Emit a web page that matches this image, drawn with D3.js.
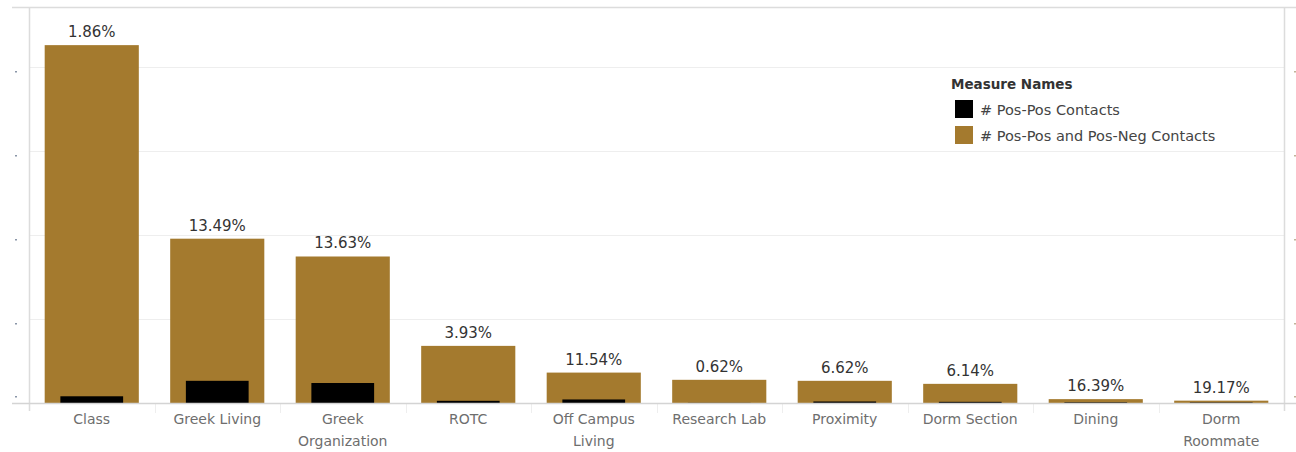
<!DOCTYPE html>
<html>
<head>
<meta charset="utf-8">
<script src="https://cdn.jsdelivr.net/npm/d3@7"></script>
<style>
  html, body { margin: 0; padding: 0; background: #fff; }
  svg { display: block; font-family: "DejaVu Sans", "Noto Sans", sans-serif; }
</style>
</head>
<body>
<svg id="chart" width="1296" height="452"></svg>
<script>
// ---- data ----
const categories = ["Class", "Greek Living", "Greek Organization", "ROTC", "Off Campus Living",
  "Research Lab", "Proximity", "Dorm Section", "Dining", "Dorm Roommate"];
const posPosAndNeg = [2130, 978, 872, 340, 181, 138, 132, 114, 23, 14];   // # Pos-Pos and Pos-Neg Contacts
const posPos       = [40, 132, 119, 13, 21, 1, 9, 7, 4, 3];              // # Pos-Pos Contacts
const pctLabels    = ["1.86%", "13.49%", "13.63%", "3.93%", "11.54%", "0.62%", "6.62%", "6.14%", "16.39%", "19.17%"];
const yTicks       = [0, 500, 1000, 1500, 2000];
const legendTitle  = "Measure Names";
const seriesNames  = ["# Pos-Pos Contacts", "# Pos-Pos and Pos-Neg Contacts"];
const seriesColors = ["#000000", "#a47a2e"];

// ---- layout ----
const svg = d3.select("#chart");
const plotL = 29, plotR = 1284, plotT = 7, zeroY = 403;

const x = d3.scaleBand().domain(categories).range([plotL, plotR]).paddingInner(0).paddingOuter(0);
const y = d3.scaleLinear().domain([0, 2357]).range([zeroY, plotT]);

// gridlines
svg.append("g").selectAll("line").data(yTicks.filter(d => d > 0)).join("line")
  .attr("x1", plotL).attr("x2", plotR)
  .attr("y1", d => Math.round(y(d)) + 0.5).attr("y2", d => Math.round(y(d)) + 0.5)
  .attr("stroke", "#eeeeee").attr("stroke-width", 1);

// tiny clipped tick labels (left & right)
const dotY = d => d === 0 ? y(d) - 7 : y(d) + 4;
svg.append("g").selectAll("rect").data(yTicks).join("rect")
  .attr("x", 15).attr("y", d => Math.round(dotY(d))).attr("width", 2).attr("height", 1.5)
  .attr("fill", "#8a96a8");
svg.append("g").selectAll("rect").data(yTicks).join("rect")
  .attr("x", 1294).attr("y", d => Math.round(dotY(d))).attr("width", 2).attr("height", 1.5)
  .attr("fill", "#c0b49a");

// frame lines
svg.append("line").attr("x1", 12).attr("x2", 1296).attr("y1", plotT + 0.5).attr("y2", plotT + 0.5)
  .attr("stroke", "#dcdcdc").attr("stroke-width", 1.5);
svg.append("line").attr("x1", plotL + 0.5).attr("x2", plotL + 0.5).attr("y1", plotT).attr("y2", zeroY + 8)
  .attr("stroke", "#dcdcdc").attr("stroke-width", 1.5);
svg.append("line").attr("x1", plotR + 0.5).attr("x2", plotR + 0.5).attr("y1", plotT).attr("y2", zeroY + 8)
  .attr("stroke", "#dcdcdc").attr("stroke-width", 1.5);

// category separators below baseline
svg.append("g").selectAll("line").data(categories.slice(1)).join("line")
  .attr("x1", d => Math.round(x(d)) + 0.5).attr("x2", d => Math.round(x(d)) + 0.5)
  .attr("y1", zeroY).attr("y2", zeroY + 10)
  .attr("stroke", "#eeeeee");

// bars
const bw = x.bandwidth();
svg.append("g").selectAll("rect").data(categories).join("rect")
  .attr("x", d => x(d) + bw * 0.125).attr("width", bw * 0.75)
  .attr("y", (d, i) => y(posPosAndNeg[i])).attr("height", (d, i) => zeroY - y(posPosAndNeg[i]))
  .attr("fill", seriesColors[1]);
svg.append("g").selectAll("rect").data(categories).join("rect")
  .attr("x", d => x(d) + bw * 0.25).attr("width", bw * 0.5)
  .attr("y", (d, i) => y(posPos[i])).attr("height", (d, i) => zeroY - y(posPos[i]))
  .attr("fill", seriesColors[0]);

// baseline
svg.append("line").attr("x1", 12).attr("x2", 1296).attr("y1", zeroY + 0.5).attr("y2", zeroY + 0.5)
  .attr("stroke", "#d4d4d4").attr("stroke-width", 1.5);

// value labels
svg.append("g").selectAll("text").data(categories).join("text")
  .attr("x", d => x(d) + bw / 2).attr("y", (d, i) => y(posPosAndNeg[i]) - 8)
  .attr("text-anchor", "middle").attr("font-size", 15).attr("fill", "#333")
  .text((d, i) => pctLabels[i]);

// category labels with wrapping
const catG = svg.append("g");
categories.forEach(c => {
  const cx = x(c) + bw / 2;
  const t = catG.append("text").attr("x", cx).attr("y", 424)
    .attr("text-anchor", "middle").attr("font-size", 14).attr("fill", "#6e6e6e");
  const words = c.split(" ");
  let line = [];
  let tspan = t.append("tspan").attr("x", cx).attr("dy", 0);
  words.forEach(w => {
    line.push(w);
    tspan.text(line.join(" "));
    if (tspan.node().getComputedTextLength() > 108 && line.length > 1) {
      line.pop();
      tspan.text(line.join(" "));
      line = [w];
      tspan = t.append("tspan").attr("x", cx).attr("dy", 22).text(w);
    }
  });
});

// legend
const lg = svg.append("g");
lg.append("text").attr("x", 951).attr("y", 89).attr("font-size", 13.5).attr("font-weight", "bold")
  .attr("fill", "#333").text(legendTitle);
seriesNames.forEach((s, i) => {
  lg.append("rect").attr("x", 955).attr("y", 100 + i * 26).attr("width", 18).attr("height", 18)
    .attr("fill", seriesColors[i]);
  lg.append("text").attr("x", 980).attr("y", 114.5 + i * 26).attr("font-size", 14.5)
    .attr("fill", "#444").text(s);
});
</script>
</body>
</html>
